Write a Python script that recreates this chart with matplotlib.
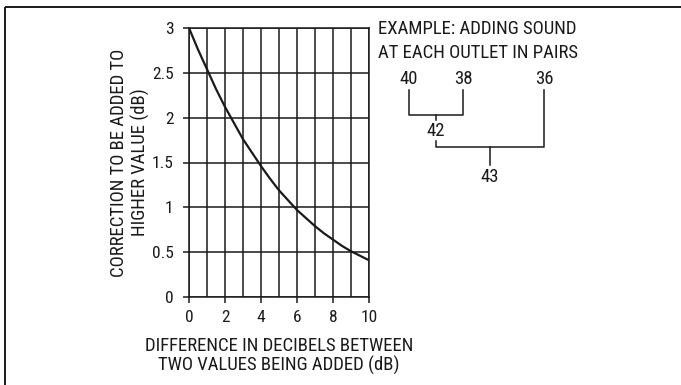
import matplotlib
matplotlib.use("Agg")
import matplotlib.pyplot as plt
from matplotlib import font_manager

# ---- data ----
diff_db = [0, 0.5, 1, 1.5, 2, 2.5, 3, 3.5, 4, 4.5, 5, 5.5, 6, 6.5, 7, 7.5, 8, 8.5, 9, 9.5, 10]
correction_db = [3.0, 2.76, 2.54, 2.32, 2.12, 1.94, 1.76, 1.61, 1.46, 1.32, 1.19, 1.08, 0.97, 0.88, 0.79, 0.71, 0.64, 0.57, 0.51, 0.46, 0.41]
x_ticks = [0, 2, 4, 6, 8, 10]
y_ticks = [0, 0.5, 1, 1.5, 2, 2.5, 3]
y_tick_labels = ["0", "0.5", "1", "1.5", "2", "2.5", "3"]
example_inputs = ["40", "38", "36"]
example_pair = "42"
example_total = "43"

names = {f.name for f in font_manager.fontManager.ttflist}
fam = "Liberation Sans"
for cand in ["Nimbus Sans Narrow", "Liberation Sans Narrow", "Arial Narrow",
             "Roboto Condensed", "Archivo Narrow"]:
    if cand in names:
        fam = cand
        break
plt.rcParams['font.family'] = [fam, 'DejaVu Sans']

W, H = 681, 385
fig = plt.figure(figsize=(W / 100, H / 100), dpi=100)
INK = '#1a1a1a'
FS_TICK = 12.5
FS_LAB = 13.5

# main axes
ax = fig.add_axes([189 / W, 1 - 297 / H, (369 - 189) / W, (297 - 28) / H])
ax.set_xlim(0, 10)
ax.set_ylim(0, 3)
for v in range(0, 11):
    ax.axvline(v, color=INK, lw=1.1, zorder=1)
for v in y_ticks:
    ax.axhline(v, color=INK, lw=1.1, zorder=1)
ax.plot(diff_db, correction_db, color=INK, lw=1.6, zorder=3)
for s in ax.spines.values():
    s.set_linewidth(1.1)
    s.set_color(INK)
ax.set_xticks(x_ticks)
ax.set_xticklabels([str(t) for t in x_ticks])
ax.set_yticks(y_ticks)
ax.set_yticklabels(y_tick_labels)
ax.tick_params(axis='x', direction='out', length=4, width=1.1, color=INK,
               labelsize=FS_TICK, labelcolor=INK, pad=5.5)
ax.tick_params(axis='y', direction='out', length=4.5, width=1.1, color=INK,
               labelsize=FS_TICK, labelcolor=INK, pad=6.5)
ax.set_xlabel("DIFFERENCE IN DECIBELS BETWEEN\nTWO VALUES BEING ADDED (dB)",
              fontsize=FS_LAB, color=INK, linespacing=1.05, labelpad=8.5)
ax.set_ylabel("CORRECTION TO BE ADDED TO\nHIGHER VALUE (dB)",
              fontsize=FS_LAB, color=INK, linespacing=1.15, labelpad=1.5)

# overlay in pixel coords for border and example diagram
ov = fig.add_axes([0, 0, 1, 1], facecolor='none')
ov.set_xlim(0, W)
ov.set_ylim(H, 0)
ov.axis('off')
k = dict(color=INK, lw=1.4, solid_capstyle='butt')
ov.plot([4.5, W], [6.5, 6.5], **k)
ov.plot([4.5, 4.5], [6.5, H], **k)

tk = dict(fontsize=FS_LAB, color=INK)
ov.text(378, 29, "EXAMPLE: ADDING SOUND", ha='left', va='center', **tk)
ov.text(378, 53, "AT EACH OUTLET IN PAIRS", ha='left', va='center', **tk)
ov.text(409, 79, example_inputs[0], ha='center', va='center', **tk)
ov.text(463, 79, example_inputs[1], ha='center', va='center', **tk)
ov.text(544, 79, example_inputs[2], ha='center', va='center', **tk)
ov.text(436, 131, example_pair, ha='center', va='center', **tk)
ov.text(490, 177, example_total, ha='center', va='center', **tk)
k2 = dict(color=INK, lw=1.1)
ov.plot([409, 409, 463, 463], [90, 115, 115, 90], **k2)
ov.plot([436, 436], [115, 120], **k2)
ov.plot([436, 436, 544, 544], [141, 147, 147, 90], **k2)
ov.plot([490, 490], [147, 165], **k2)

fig.savefig("out.png", dpi=100)
